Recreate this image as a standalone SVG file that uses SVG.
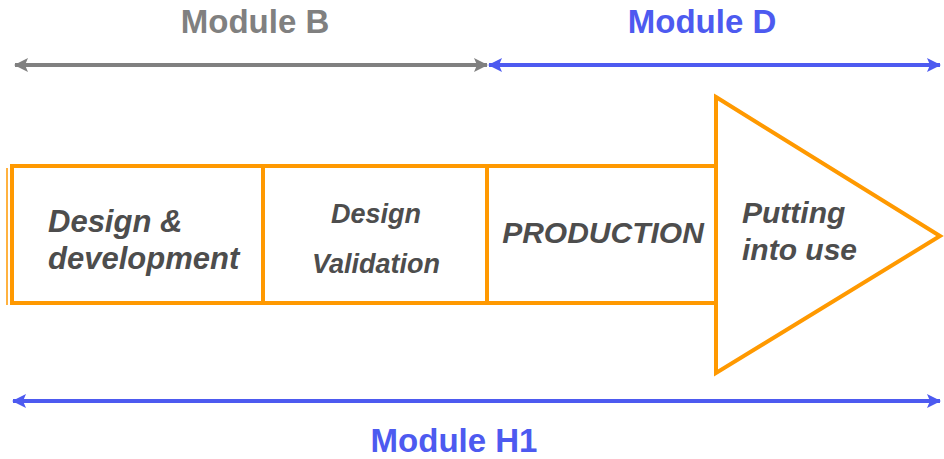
<svg xmlns="http://www.w3.org/2000/svg" width="944" height="459" viewBox="0 0 944 459">
  <defs>
    <style>
      .mod { font-family: "Liberation Sans", Arial, sans-serif; font-weight: bold; font-size: 33px; text-anchor: middle; }
      .gray { fill: #808080; }
      .blue { fill: #4D5AF0; }
      .lbl { font-family: "Liberation Sans", Arial, sans-serif; font-weight: bold; font-style: italic; fill: #4D4D4D; }
      .box { fill: #FFFFFF; stroke: #FF9900; stroke-width: 4; }
      .ln-gray { stroke: #808080; stroke-width: 4; fill: none; }
      .ln-blue { stroke: #4D5AF0; stroke-width: 4; fill: none; }
    </style>
    <marker id="ag" markerUnits="userSpaceOnUse" markerWidth="14" markerHeight="14" refX="13" refY="7" orient="auto-start-reverse" viewBox="0 0 14 14">
      <path d="M0,0 L14,7 L0,14 L3,7 z" fill="#808080"/>
    </marker>
    <marker id="ab" markerUnits="userSpaceOnUse" markerWidth="14" markerHeight="14" refX="13" refY="7" orient="auto-start-reverse" viewBox="0 0 14 14">
      <path d="M0,0 L14,7 L0,14 L3,7 z" fill="#4D5AF0"/>
    </marker>
  </defs>
  <rect x="0" y="0" width="944" height="459" fill="#FFFFFF"/>

  <g id="connectors">
    <line class="ln-gray" x1="15" y1="65" x2="487" y2="65" marker-start="url(#ag)" marker-end="url(#ag)"/>
    <line class="ln-blue" x1="489" y1="65" x2="940" y2="65" marker-start="url(#ab)" marker-end="url(#ab)"/>
    <line class="ln-blue" x1="13" y1="401" x2="940" y2="401" marker-start="url(#ab)" marker-end="url(#ab)"/>
  </g>

  <g id="module-b"><text class="mod gray" x="255" y="33">Module B</text></g>
  <g id="module-d"><text class="mod blue" x="702" y="33">Module D</text></g>
  <g id="module-h1"><text class="mod blue" x="454" y="452">Module H1</text></g>

  <line x1="7" y1="168" x2="7" y2="305" stroke="#FF9900" stroke-width="1.5"/>

  <g id="putting-into-use">
    <polygon class="box" points="716,97 940,236 716,373"/>
    <text class="lbl" font-size="30" x="742" y="223">Putting</text>
    <text class="lbl" font-size="30" x="742" y="260">into use</text>
  </g>
  <g id="design-development">
    <rect class="box" x="12" y="166" width="251" height="137"/>
    <text class="lbl" font-size="31" x="48" y="232">Design &amp;</text>
    <text class="lbl" font-size="31" x="48" y="269">development</text>
  </g>
  <g id="design-validation">
    <rect class="box" x="263" y="166" width="224" height="137"/>
    <text class="lbl" font-size="27" x="376" y="223" text-anchor="middle">Design</text>
    <text class="lbl" font-size="27" x="376" y="273" text-anchor="middle">Validation</text>
  </g>
  <g id="production">
    <rect class="box" x="487" y="166" width="229" height="137"/>
    <text class="lbl" font-size="30" x="603" y="243" text-anchor="middle">PRODUCTION</text>
  </g>
</svg>
